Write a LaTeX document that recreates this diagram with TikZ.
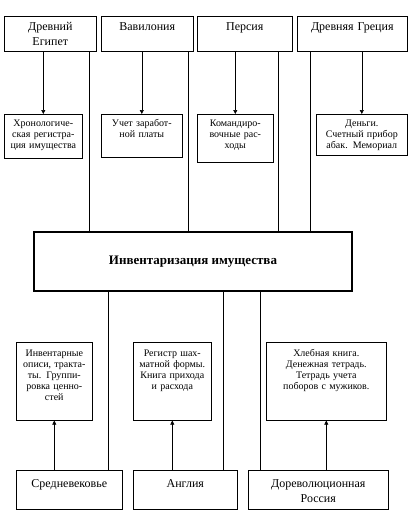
\documentclass[tikz,border=0pt]{standalone}
\usepackage{fontspec}
\setmainfont{Liberation Serif}
\usetikzlibrary{arrows.meta}

\begin{document}
\begin{tikzpicture}[
    x=1pt, y=-1pt,
    >={Triangle[length=4pt,width=4pt]},
    box/.style  ={draw, line width=0.6pt, anchor=north west, align=center,
                  inner sep=0pt},
    head/.style ={box, font=\fontsize{12}{15}\selectfont, text height=14pt},
    note/.style ={box, font=\fontsize{10}{11}\selectfont},
    inv/.style  ={draw, line width=1.3pt, minimum width=318pt, minimum height=59pt,
                  font=\bfseries\fontsize{13}{15}\selectfont},
    link/.style ={line width=0.6pt},
    arr/.style  ={->, line width=0.6pt},
]
\useasboundingbox (0,0) rectangle (410,515);

% ============================================================
% TOP ROW
% ============================================================
\node[head, text width=92pt,  text depth=21pt] (egypt)   at (4,16)   {Древний\\Египет};
\node[head, text width=92pt,  text depth=21pt] (babylon) at (101,16) {Вавилония};
\node[head, text width=95pt,  text depth=21pt] (persia)  at (197,16) {Персия};
\node[head, text width=110pt, text depth=21pt] (greece)  at (297,16) {Древняя Греция};

\node[note, text width=78pt, text height=12.5pt, text depth=31.5pt] (chrono) at (4,114)
    {Хронологиче-\\ская регистра-\\ция имущества};
\node[note, text width=81pt, text height=12.5pt, text depth=30.5pt] (wages)  at (101,114)
    {Учет заработ-\\ной платы};
\node[note, text width=76pt, text height=12.5pt, text depth=35.5pt] (travel) at (197,114)
    {Командиро-\\вочные рас-\\ходы};
\node[note, text width=91pt, text height=12.5pt, text depth=28.5pt] (money)  at (316,114)
    {Деньги.\\Счетный прибор\\абак. Мемориал};

% ============================================================
% MAIN BOX
% ============================================================
\node[inv] (main) at (193,261.5) {Инвентаризация имущества};

% ============================================================
% BOTTOM ROW
% ============================================================
\node[note, text width=76pt,  text height=14.5pt, text depth=63.5pt] (lists)  at (16,342)
    {Инвентарные\\описи, тракта-\\ты. Группи-\\ровка ценно-\\стей};
\node[note, text width=78pt,  text height=14.5pt, text depth=63.5pt] (chess)  at (133,342)
    {Регистр шах-\\матной формы.\\Книга прихода\\и расхода};
\node[note, text width=120pt, text height=14.5pt, text depth=63.5pt] (grain)  at (266,342)
    {Хлебная книга.\\Денежная тетрадь.\\Тетрадь учета\\поборов с мужиков.};

\node[head, text width=106pt, text height=17pt, text depth=22pt] (medieval) at (16,470)  {Средневековье};
\node[head, text width=104pt, text height=17pt, text depth=22pt] (england)  at (133,470) {Англия};
\node[head, text width=140pt, text height=17pt, text depth=22pt] (russia)   at (248,470) {Дореволюционная\\Россия};

% arrows to the notes
\draw[arr] (chrono.north |- egypt.south)   -- (chrono.north);
\draw[arr] (wages.north  |- babylon.south) -- (wages.north);
\draw[arr] (travel.north |- persia.south)  -- (travel.north);
\draw[arr] (money.north  |- greece.south)  -- (money.north);

\draw[arr] (lists.south |- medieval.north) -- (lists.south);
\draw[arr] (chess.south |- england.north)  -- (chess.south);
\draw[arr] (grain.south |- russia.north)   -- (grain.south);

% lines to the main box
\draw[link] ([xshift=-7pt]egypt.south east)   -- ([xshift=-7pt]egypt.south east |- main.north);
\draw[link] ([xshift=-5pt]babylon.south east) -- ([xshift=-5pt]babylon.south east |- main.north);
\draw[link] ([xshift=-14pt]persia.south east) -- ([xshift=-14pt]persia.south east |- main.north);
\draw[link] ([xshift=13pt]greece.south west)  -- ([xshift=13pt]greece.south west |- main.north);

\draw[link] ([xshift=-14pt]medieval.north east) -- ([xshift=-14pt]medieval.north east |- main.south);
\draw[link] ([xshift=-14pt]england.north east)  -- ([xshift=-14pt]england.north east |- main.south);
\draw[link] ([xshift=12pt]russia.north west)    -- ([xshift=12pt]russia.north west |- main.south);

\end{tikzpicture}
\end{document}
